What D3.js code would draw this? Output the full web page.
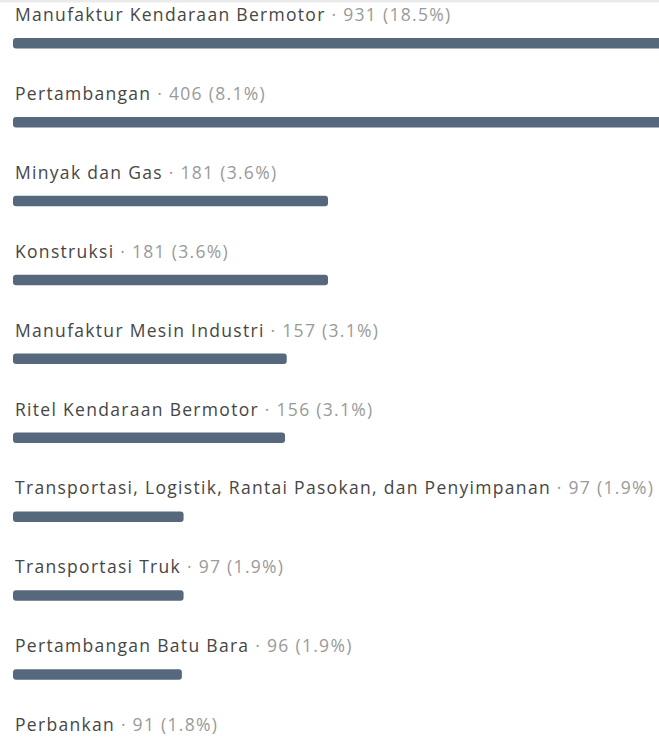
<!DOCTYPE html>
<html>
<head>
<meta charset="utf-8">
<script src="https://cdn.jsdelivr.net/npm/d3@7"></script>
<style>
html,body{margin:0;padding:0;background:#fff;overflow:hidden;}
svg{display:block;}
</style>
</head>
<body>
<script>
const categories = [
  "Manufaktur Kendaraan Bermotor",
  "Pertambangan",
  "Minyak dan Gas",
  "Konstruksi",
  "Manufaktur Mesin Industri",
  "Ritel Kendaraan Bermotor",
  "Transportasi, Logistik, Rantai Pasokan, dan Penyimpanan",
  "Transportasi Truk",
  "Pertambangan Batu Bara",
  "Perbankan"
];
const values = [931, 406, 181, 181, 157, 156, 97, 97, 96, 91];
const percents = ["18.5%", "8.1%", "3.6%", "3.6%", "3.1%", "3.1%", "1.9%", "1.9%", "1.9%", "1.8%"];

const W = 659, H = 737;
const data = categories.map((c, i) => ({ c, v: values[i], p: percents[i] }));

const svg = d3.select("body").append("svg").attr("width", W).attr("height", H);

// thin top strip
svg.append("rect").attr("x", 0).attr("y", 0).attr("width", W).attr("height", 2.5).attr("fill", "#ebebeb");

const row = d3.scaleBand().domain(categories).range([0, 78.9 * categories.length]).padding(0);
const x = d3.scaleLinear().domain([0, 931]).range([16.8, 16.8 + 931 * 1.7194]);
const x0 = 13;

const g = svg.append("g").selectAll("g").data(data).join("g")
  .attr("transform", d => `translate(0,${row(d.c)})`);

g.append("rect")
  .attr("x", x0)
  .attr("y", 38)
  .attr("width", d => x(d.v) - x0)
  .attr("height", 10.5)
  .attr("rx", 3)
  .attr("fill", "#56687c");

const t = g.append("text")
  .attr("x", 15)
  .attr("y", 21)
  .attr("font-family", "'Open Sans', sans-serif")
  .attr("font-size", 17.5)
  .attr("letter-spacing", 1.3);
t.append("tspan").attr("fill", "#464646").text(d => d.c);
t.append("tspan").attr("fill", "#9a9a9a").text(d => ` · ${d.v} (${d.p})`);
</script>
</body>
</html>
